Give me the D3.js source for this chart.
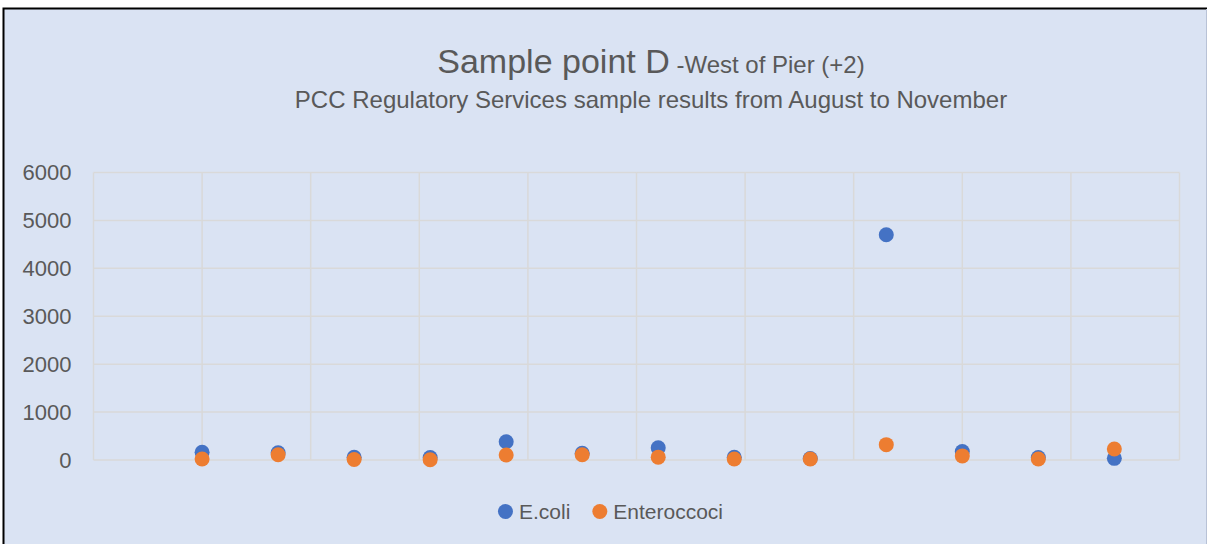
<!DOCTYPE html>
<html>
<head>
    <meta charset="utf-8">
    <title>Sample point D</title>
    <script src="https://cdn.jsdelivr.net/npm/d3@7"></script>
    <style>
        body { margin: 0; background: #fff; }
        text { font-family: "Liberation Sans", Arial, sans-serif; fill: #595959; }
    </style>
</head>
<body>
<div id="chart"></div>
<script type="text/javascript">

	// sample data (days on the date axis, counts per 100ml)
	var sampleDays = [10, 17, 24, 31, 38, 45, 52, 59, 66, 73, 80, 87, 94];
	var ecoli = [160, 150, 55, 50, 380, 140, 255, 55, 30, 4700, 175, 50, 35];
	var enterococci = [20, 110, 10, 5, 105, 110, 60, 20, 20, 320, 85, 20, 230];
	var seriesNames = ["E.coli", "Enteroccoci"];
	var seriesColors = ["#4472C4", "#ED7D31"];
	var yTicks = [0, 1000, 2000, 3000, 4000, 5000, 6000];
	var xTicks = [0, 10, 20, 30, 40, 50, 60, 70, 80, 90, 100];

	var width = 1208, height = 544;

	var svg = d3.select("#chart").append("svg")
		.attr("width", width)
		.attr("height", height);

	// chart area background + border
	svg.append("rect")
		.attr("x", 4).attr("y", 8)
		.attr("width", 1203).attr("height", 540)
		.attr("fill", "#DAE3F3");
	svg.append("path")
		.attr("d", "M3.5,548V8.5H1207")
		.attr("fill", "none")
		.attr("stroke", "#000")
		.attr("stroke-width", 2);
	svg.append("line")
		.attr("x1", 1206.5).attr("x2", 1206.5)
		.attr("y1", 9).attr("y2", 544)
		.attr("stroke", "#b8c2d6");

	// scales
	var x = d3.scaleLinear().domain([0, 100]).range([93.5, 1179.5]);
	var y = d3.scaleLinear().domain([0, 6000]).range([460, 172.5]);

	// gridlines
	var grid = svg.append("g").attr("stroke", "#D9D9D9").attr("stroke-width", 1.5);
	grid.selectAll("line.h").data(yTicks).enter().append("line")
		.attr("class", "h")
		.attr("x1", x(0)).attr("x2", x(100))
		.attr("y1", function(d){ return y(d); })
		.attr("y2", function(d){ return y(d); });
	grid.selectAll("line.v").data(xTicks).enter().append("line")
		.attr("class", "v")
		.attr("x1", function(d){ return x(d); })
		.attr("x2", function(d){ return x(d); })
		.attr("y1", y(6000)).attr("y2", y(0));

	// y axis labels
	var yAxis = d3.axisLeft(y).tickValues(yTicks).tickFormat(d3.format("d")).tickSize(0).tickPadding(22);
	var ya = svg.append("g").attr("transform", "translate(" + x(0) + ",0)").call(yAxis);
	ya.select(".domain").remove();
	ya.selectAll("text")
		.style("font-size", "22px")
		.style("font-family", "'Liberation Sans', Arial, sans-serif")
		.attr("fill", "#595959");

	// points, E.coli first then Enteroccoci on top
	[ecoli, enterococci].forEach(function(vals, i){
		svg.append("g").selectAll("circle")
			.data(vals)
			.enter()
			.append("circle")
			.attr("cx", function(d, j){ return x(sampleDays[j]); })
			.attr("cy", function(d){ return y(d); })
			.attr("r", 7.5)
			.attr("fill", seriesColors[i]);
	});

	// title
	var title = svg.append("text")
		.attr("x", 651).attr("y", 73)
		.attr("text-anchor", "middle");
	title.append("tspan").style("font-size", "34px").text("Sample point D");
	title.append("tspan").style("font-size", "24px").text(" -West of Pier (+2)");

	svg.append("text")
		.attr("x", 651).attr("y", 108)
		.attr("text-anchor", "middle")
		.style("font-size", "24px")
		.text("PCC Regulatory Services sample results from August to November");

	// legend
	var legend = svg.append("g");
	var lx = 0;
	seriesNames.forEach(function(name, i){
		var item = legend.append("g").attr("transform", "translate(" + lx + ",0)");
		item.append("circle").attr("cx", 7.5).attr("cy", -7.5).attr("r", 7.5).attr("fill", seriesColors[i]);
		var t = item.append("text").attr("x", 21).attr("y", 0)
			.style("font-size", "21px").text(name);
		lx += 21 + t.node().getComputedTextLength() + 22;
	});
	var lw = lx - 22;
	legend.attr("transform", "translate(" + (610.5 - lw / 2) + ",519)");

</script>
</body>
</html>
